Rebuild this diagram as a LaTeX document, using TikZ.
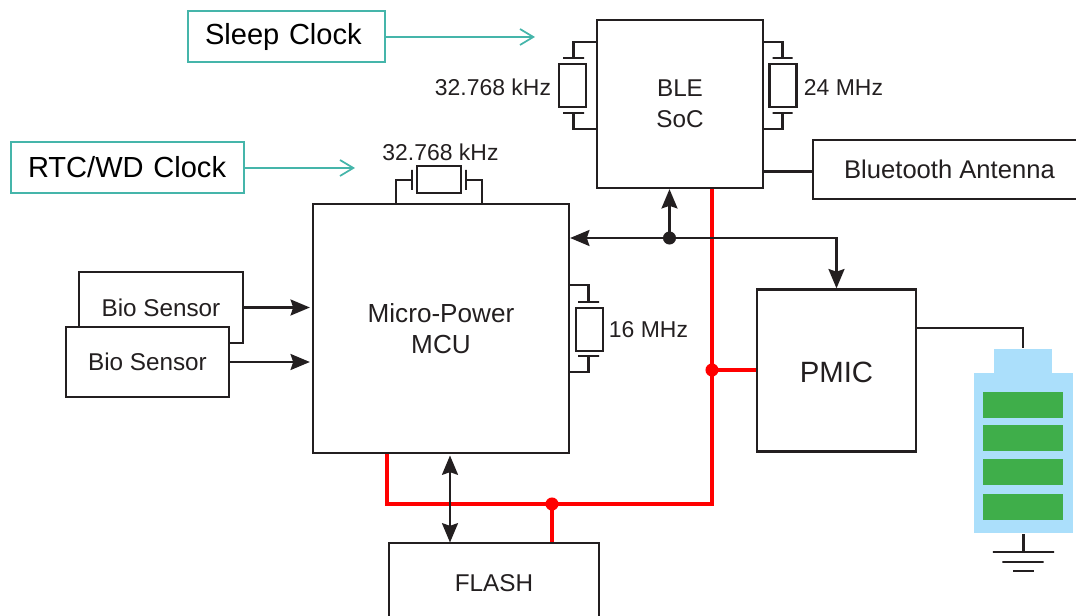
\documentclass[tikz,border=0pt]{standalone}
\usepackage{fontspec}
\setmainfont{Liberation Sans}
\usetikzlibrary{arrows.meta}
\definecolor{ink}{HTML}{231F20}
\definecolor{clockteal}{HTML}{45B5AA}
\definecolor{battblue}{HTML}{ABDFFB}
\definecolor{battgreen}{HTML}{3FAE4A}
\tikzset{box/.style={draw,fill=white,inner sep=0pt,align=center,minimum width=#1},
  freq/.style={inner sep=0pt,font=\fontsize{17.2}{20}\selectfont},
  body/.style={font=\fontsize{18.2}{23}\selectfont},
  clockbox/.style={draw=clockteal,text=black,line width=1.2pt,align=left,inner xsep=12.75pt,inner ysep=0pt,minimum height=38.25pt,font=\fontsize{21.8}{26}\selectfont},
  clockline/.style={clockteal,line width=1.3pt,-{Straight Barb[length=10pt,width=12pt]}},
  sigtip/.tip={Stealth[length=14.5pt,width=12pt,inset=2pt]},
  sigline/.style={-sigtip},
  powerline/.style={red,line width=3.6pt},
  junction/.style={circle,fill,inner sep=0pt,outer sep=0pt,minimum size=9.8pt},
  hplate/.style={draw,inner sep=0pt,minimum height=0pt,minimum width=#1},
  vplate/.style={draw,inner sep=0pt,minimum width=0pt,minimum height=#1},
  xtal/.style={draw,inner sep=0pt,minimum width=#1},
  battpart/.style={fill=battblue,inner sep=0pt},
  cell/.style={fill=battgreen,inner sep=0pt,minimum width=60pt,minimum height=19.5pt}}

\begin{document}
\begin{tikzpicture}[x=0.75pt,y=-0.75pt,ink,line width=1.7pt]
  \useasboundingbox (0,0) rectangle (1076,616);
  \clip (0,0) rectangle (1076,616);

  % clock callouts
  \node[clockbox,text width=122.25pt] (sleep) at (286.5,36.5) {Sleep Clock};
  \node[clockbox,text width=149.25pt] (rtc) at (127.5,167.5) {RTC/WD Clock};
  \coordinate (sleeptip) at (535,37);
  \coordinate (rtctip) at (355,168);
  \draw[clockline] (sleep.east |- sleeptip) -- (sleeptip);
  \draw[clockline] (rtc.east |- rtctip) -- (rtctip);

  % main blocks
  \node[box=124.5pt,minimum height=126pt,body] (soc) at (680,104) {BLE\\SoC};
  \node[box=192pt,minimum height=186.75pt,body,font=\fontsize{19.6}{23}\selectfont] (mcu) at (441,328.5) {Micro-Power\\MCU};
  \node[box=119.25pt,minimum height=121.5pt,text height=18pt,font=\fontsize{22}{26}\selectfont] (pmic) at (836.5,370.5) {PMIC};
  \node[box=204.75pt,minimum height=44.25pt,font=\fontsize{19.2}{23}\selectfont] (antenna) at (949.5,169.5) {Bluetooth Antenna};
  \node[box=157.5pt,minimum height=60pt,body] (flash) at (494,583) {FLASH};
  \node[box=123pt,minimum height=53.25pt,body] (bioback) at (161,307.5) {Bio Sensor};
  \node[box=122.25pt,minimum height=52.5pt,body] (biofront) at (147.5,362) {Bio Sensor};

  % power rail
  \node[junction,red] (pmicdot) at (712,370) {};
  \node[junction,red] (flashdot) at (552,504) {};
  \coordinate (railcorner) at (712,504);
  \coordinate (mcucorner) at (387,504);
  \draw[powerline] (soc.south -| railcorner) -- (railcorner) -- (mcucorner) -- (mcu.south -| mcucorner);
  \draw[powerline] (pmicdot.center) -- (pmic.west |- pmicdot);
  \draw[powerline] (flashdot.center) -- (flash.north -| flashdot);

  % signal bus
  \node[junction] (busdot) at (669.5,238) {};
  \coordinate (flashtop) at (450,455.5);
  \coordinate (flashbot) at (450,542.5);
  \draw[sigline] (busdot.center) -- (soc.south -| busdot);
  \draw[sigline] (busdot.center) -- (mcu.east |- busdot);
  \draw[sigline] (busdot.center) -| (pmic.north);
  \draw[sigtip-sigtip] (flashtop) -- (flashbot);
  \draw[sigline,shorten >=1.5pt] (bioback.east) -- (mcu.west |- bioback.east);
  \draw[sigline,shorten >=1.5pt] (biofront.east) -- (mcu.west |- biofront.east);
  \coordinate (antstub) at (763,171.5);
  \draw (antstub) -- (antstub -| antenna.west);

  % crystal on the left of the SoC
  \node[xtal=20.25pt,minimum height=32.25pt] (xa) at (572.5,85.5) {};
  \node[hplate=15.75pt] (xat) at (573.5,58) {};
  \node[hplate=15.75pt] (xab) at (573.5,113) {};
  \coordinate (xa1) at (597,42);
  \coordinate (xa2) at (597,129);
  \draw (xa1) -| (xat);
  \draw (xa2) -| (xab);
  \node[freq] (xalabel) at (493,87) {32.768 kHz};

  % crystal on the right of the SoC
  \node[xtal=20.25pt,minimum height=32.25pt] (xb) at (783,85.5) {};
  \node[hplate=15pt] (xbt) at (782.5,58) {};
  \node[hplate=15pt] (xbb) at (782.5,113) {};
  \coordinate (xb1) at (763,42);
  \coordinate (xb2) at (763,129);
  \draw (xb1) -| (xbt);
  \draw (xb2) -| (xbb);
  \node[freq] (xblabel) at (843.5,87) {24 MHz};

  % crystal on top of the MCU
  \node[xtal=33pt,minimum height=20.25pt] (xc) at (439,179.5) {};
  \node[vplate=15pt] (xcl) at (412,180) {};
  \node[vplate=15pt] (xcr) at (466,180) {};
  \coordinate (xc1) at (396,204);
  \coordinate (xc2) at (482,204);
  \draw (xc1) |- (xcl);
  \draw (xc2) |- (xcr);
  \node[freq] (xclabel) at (440.5,152) {32.768 kHz};

  % crystal on the right of the MCU
  \node[xtal=20.25pt,minimum height=32.25pt] (xd) at (589.5,329.5) {};
  \node[hplate=15.75pt] (xdt) at (588.5,302) {};
  \node[hplate=15.75pt] (xdb) at (588.5,356) {};
  \coordinate (xd1) at (569,285);
  \coordinate (xd2) at (569,372);
  \draw (xd1) -| (xdt);
  \draw (xd2) -| (xdb);
  \node[freq] (xdlabel) at (648.5,330) {16 MHz};

  % battery and ground
  \node[battpart,minimum width=43.5pt,minimum height=20pt] (battcap) at (1023,362) {};
  \node[battpart,minimum width=74.25pt,minimum height=120pt] (battbody) at (1023.5,453) {};
  \node[cell] (cella) at (1023,405) {};
  \node[cell] (cellb) at (1023,438.5) {};
  \node[cell] (cellc) at (1023,472.5) {};
  \node[cell] (celld) at (1023,507) {};
  \coordinate (pmicout) at (916,328);
  \draw (pmicout) -| (battcap.north);
  \node[hplate=46pt] (gnda) at (1023.5,552) {};
  \node[hplate=31pt] (gndb) at (1023,562) {};
  \node[hplate=15.5pt] (gndc) at (1023.5,571) {};
  \draw (battbody.south -| gnda) -- (gnda);
\end{tikzpicture}
\end{document}
